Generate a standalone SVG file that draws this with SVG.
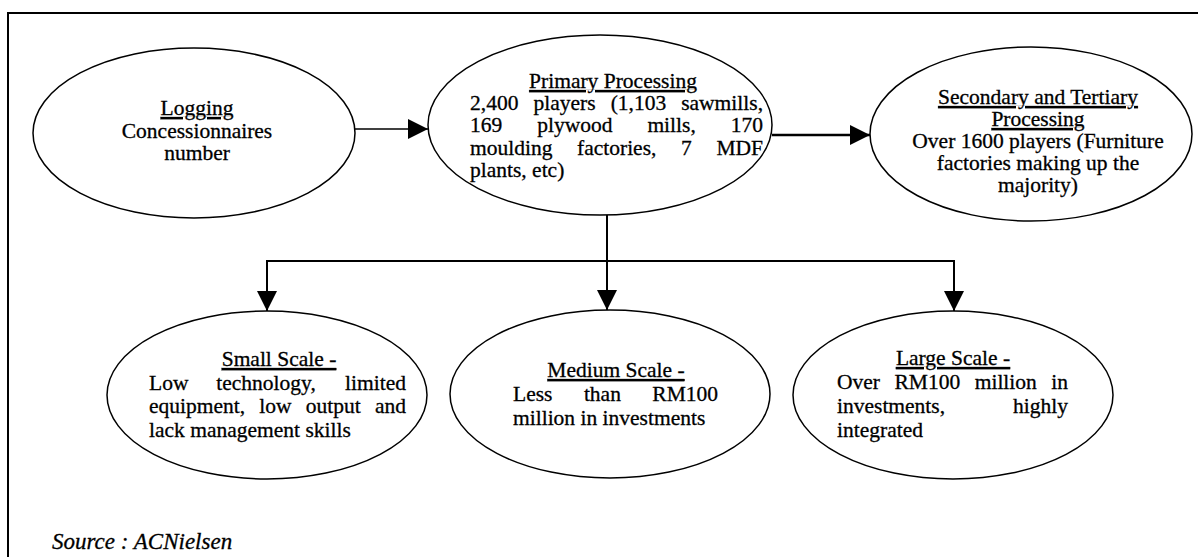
<svg xmlns="http://www.w3.org/2000/svg" width="1198" height="557" viewBox="0 0 1198 557">
<style>
text{font-family:"Liberation Serif","Times New Roman",serif;font-size:21.5px;fill:#000;stroke:#000;stroke-width:0.3}
.c{text-anchor:middle}
.u{text-decoration:underline}
.node ellipse{fill:#fff;stroke:#000;stroke-width:1.5}
.frame{stroke:#000;stroke-width:2;fill:none}
.conn line,.conn path{stroke:#000;fill:none}
</style>
<defs>
<marker id="ah" markerUnits="userSpaceOnUse" markerWidth="20" markerHeight="20" refX="20" refY="10" orient="auto" viewBox="0 0 20 20">
<path d="M0,0 L20,10 L0,20 z" fill="#000"/>
</marker>
</defs>
<rect width="1198" height="557" fill="#fff"/>
<path class="frame" d="M8,557 L8,13 L1198,13"/>

<g id="logging" class="node">
<ellipse cx="194" cy="133" rx="161" ry="85"/>
<text class="c u" x="197" y="115">Logging</text>
<text class="c" x="197" y="138">Concessionnaires</text>
<text class="c" x="197" y="160">number</text>
</g>

<g id="primary" class="node">
<ellipse cx="600" cy="125" rx="172" ry="90"/>
<text class="c u" x="613" y="88">Primary Processing</text>
<text y="110"><tspan x="470">2,400</tspan><tspan x="533.5">players</tspan><tspan x="610.7">(1,103</tspan><tspan x="681.2">sawmills,</tspan></text>
<text y="132"><tspan x="470">169</tspan><tspan x="537.2">plywood</tspan><tspan x="647.4">mills,</tspan><tspan x="730.8">170</tspan></text>
<text y="155"><tspan x="470">moulding</tspan><tspan x="577">factories,</tspan><tspan x="681">7</tspan><tspan x="716.4">MDF</tspan></text>
<text x="470" y="177">plants, etc)</text>
</g>

<g id="secondary" class="node">
<ellipse cx="1031" cy="134" rx="161" ry="87"/>
<text class="c u" x="1038" y="104">Secondary and Tertiary</text>
<text class="c u" x="1038" y="126">Processing</text>
<text class="c" x="1038" y="148">Over 1600 players (Furniture</text>
<text class="c" x="1038" y="170">factories making up the</text>
<text class="c" x="1038" y="192">majority)</text>
</g>

<g id="small" class="node">
<ellipse cx="267" cy="395" rx="160" ry="84"/>
<text class="c u" x="279" y="366">Small Scale -</text>
<text y="390"><tspan x="149">Low</tspan><tspan x="216.3">technology,</tspan><tspan x="345.1">limited</tspan></text>
<text y="413"><tspan x="149">equipment,</tspan><tspan x="259.3">low</tspan><tspan x="305.8">output</tspan><tspan x="375">and</tspan></text>
<text x="149" y="437">lack management skills</text>
</g>

<g id="medium" class="node">
<ellipse cx="610" cy="394" rx="160" ry="84"/>
<text class="c u" x="616" y="377">Medium Scale -</text>
<text y="401"><tspan x="513">Less</tspan><tspan x="583.9">than</tspan><tspan x="652.3">RM100</tspan></text>
<text x="513" y="425">million in investments</text>
</g>

<g id="large" class="node">
<ellipse cx="953" cy="395" rx="160" ry="84"/>
<text class="c u" x="953" y="365">Large Scale -</text>
<text y="389"><tspan x="837">Over</tspan><tspan x="894.5">RM100</tspan><tspan x="974.7">million</tspan><tspan x="1051.3">in</tspan></text>
<text y="413"><tspan x="837">investments,</tspan><tspan x="1013">highly</tspan></text>
<text x="837" y="437">integrated</text>
</g>

<g id="connectors" class="conn">
<line x1="355" y1="129" x2="428" y2="129" stroke-width="1.5" marker-end="url(#ah)"/>
<line x1="772" y1="135" x2="870" y2="135" stroke-width="2.5" marker-end="url(#ah)"/>
<line x1="607" y1="215" x2="607" y2="310" stroke-width="2" marker-end="url(#ah)"/>
<path d="M607,261 L267,261 L267,311" stroke-width="2" marker-end="url(#ah)"/>
<path d="M607,261 L954,261 L954,311" stroke-width="2" marker-end="url(#ah)"/>
</g>

<text x="52" y="549" font-style="italic" style="font-size:23px">Source : ACNielsen</text>
</svg>
